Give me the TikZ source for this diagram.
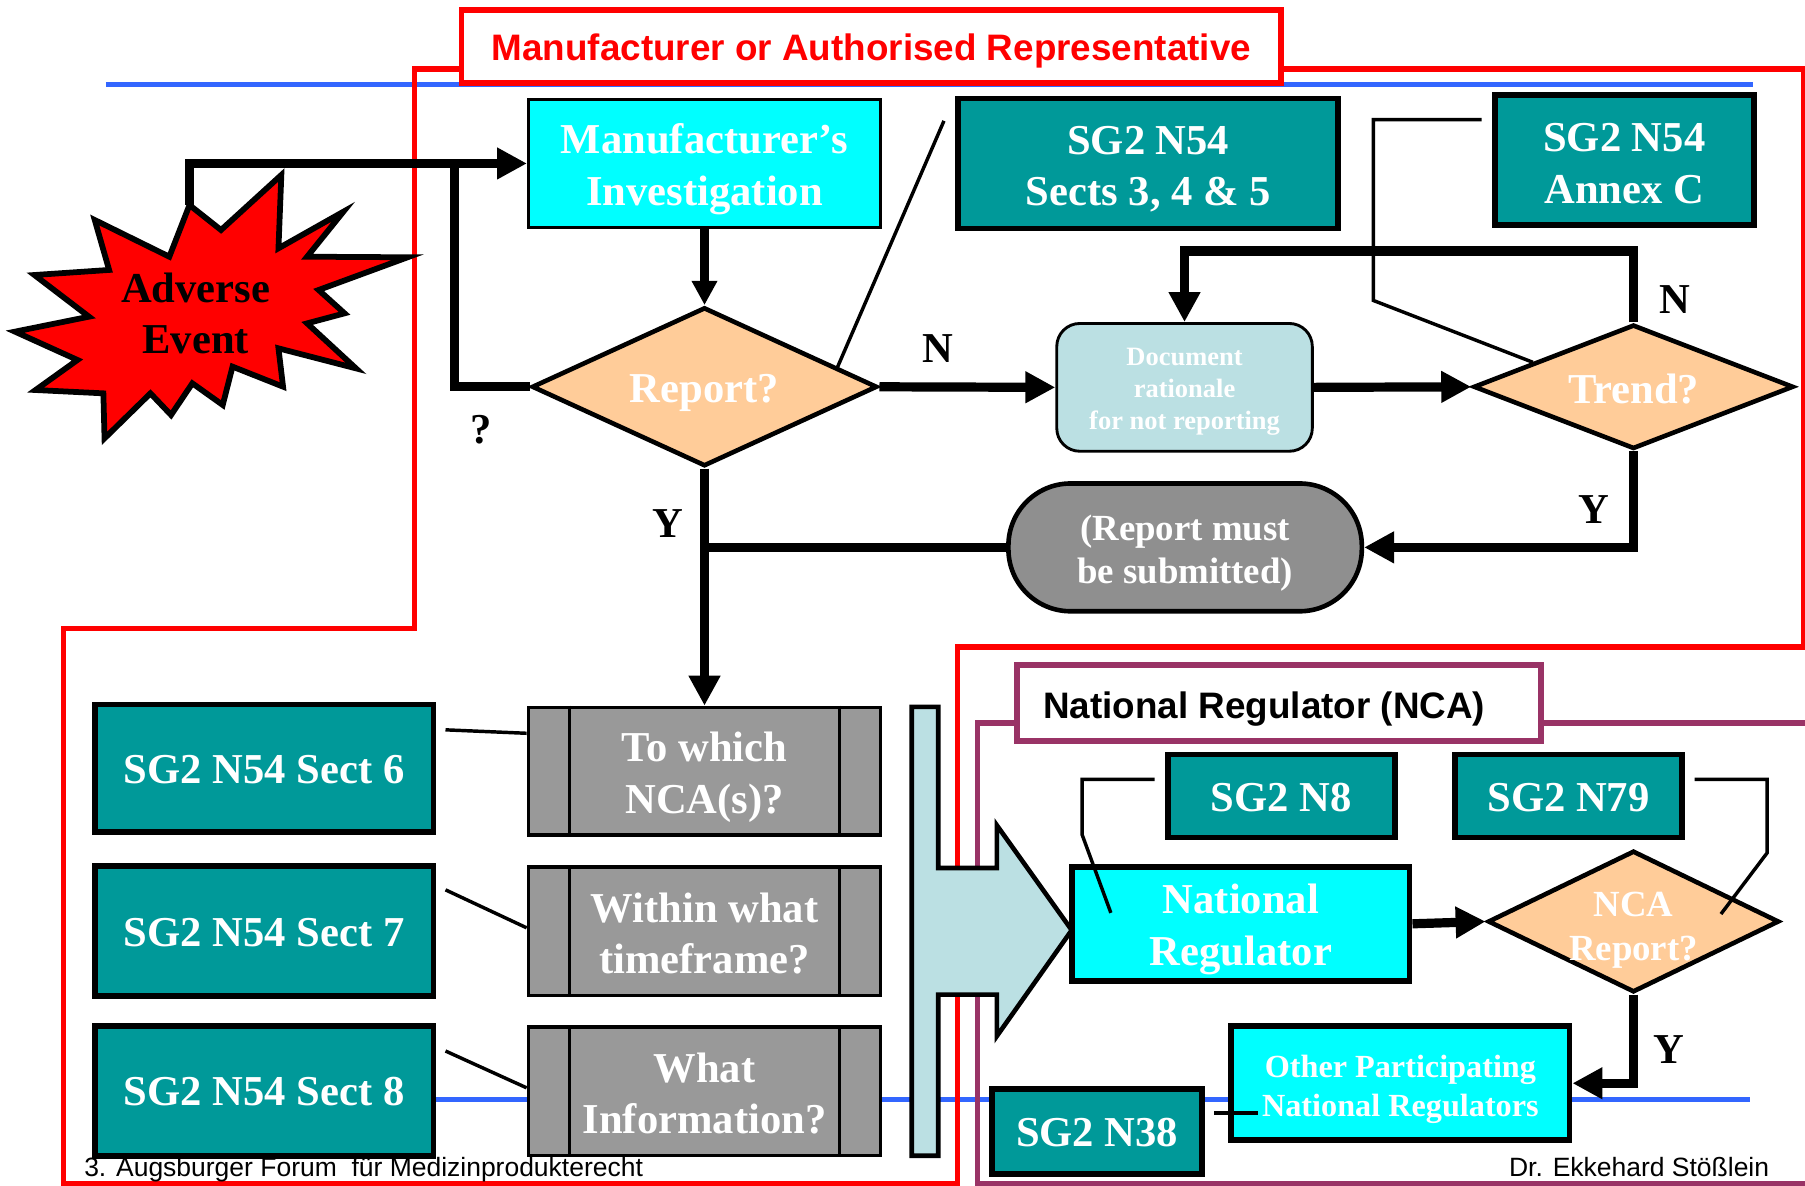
\documentclass[tikz,border=0pt]{standalone}
\usepackage{fontspec}
\setmainfont{Liberation Serif}
\newfontfamily\arialf{Liberation Sans}
\usetikzlibrary{arrows.meta,shapes.geometric,calc}

\definecolor{teal1}{HTML}{009999}
\definecolor{cyan1}{HTML}{00FFFF}
\definecolor{peach}{HTML}{FFCC99}
\definecolor{lblue}{HTML}{BBE0E3}
\definecolor{gray1}{HTML}{999999}
\definecolor{gray2}{HTML}{8F8F8F}
\definecolor{purp}{HTML}{993366}
\definecolor{blue1}{HTML}{3366FF}
\definecolor{red1}{HTML}{FF0000}

\newcommand\fA{\fontsize{37}{45}\selectfont\bfseries}
\newcommand\fB{\fontsize{32}{38}\selectfont\bfseries}
\newcommand\fC{\fontsize{28}{34}\selectfont\bfseries}
\newcommand\fD{\fontsize{23}{28}\selectfont\bfseries}
\newcommand\fH{\arialf\fontsize{32}{38}\selectfont\bfseries}
\newcommand\fF{\arialf\fontsize{23}{28}\selectfont}

\tikzset{
  txt/.style n args={3}{label={[text=white, inner sep=0pt, align=center, font=#1, yshift=#2]center:{#3}}},
  tealbox/.style={draw=black, fill=teal1, line width=5pt, inner sep=0pt},
  cyanbox/.style={draw=black, fill=cyan1, line width=5pt, inner sep=0pt},
  procbox/.style={draw=black, fill=gray1, line width=3pt, inner sep=0pt, minimum width=306pt},
  dia/.style={diamond, draw=black, fill=peach, line width=4pt, inner sep=0pt},
  flow/.style={line width=8pt, -{Triangle[length=26pt,width=26pt]}},
  flowsmall/.style={line width=8pt, -{Triangle[length=21pt,width=21pt]}},
  flowx/.style={line width=8pt},
  thinline/.style={line width=3pt},
  lbl/.style={font=\fA, text=black, inner sep=0pt},
  bar/.style={line width=2.5pt},
}

\begin{document}
\begin{tikzpicture}[x=1pt,y=-1pt]
\useasboundingbox (0,0) rectangle (1568,1030);
\fill[white] (0,0) rectangle (1568,1030);

% blue rules
\draw[blue1, line width=4pt] (92,73.5) -- (1523,73.5);
\draw[blue1, line width=4pt] (300,955) -- (1520,955);

% regions
\draw[red1, line width=4.5pt] (360,60) -- (1567,60) -- (1567,562) -- (832,562) -- (832,1028) -- (55,1028) -- (55,546) -- (360,546) -- cycle;
\draw[purp, line width=4.5pt] (849,628) -- (1580,628) -- (1580,1028) -- (849,1028) -- cycle;

% headers
\node[draw=red1, line width=5pt, fill=white, minimum width=712pt, minimum height=63pt, inner sep=0pt,
      label={[font=\fH, text=red1, inner sep=0pt, yshift=-4pt]center:{Manufacturer or Authorised Representative}}] (hdr1) at (757,40.5) {};
\node[draw=purp, line width=5pt, fill=white, minimum width=455pt, minimum height=66pt, inner sep=0pt] (hdr2) at (1111,611) {};
\node[font=\fH, text=black, anchor=west, inner sep=0pt] (hdr2t) at (906,616) {National Regulator (NCA)};

% adverse event star
\draw[fill=red1, line width=5pt, line join=miter, miter limit=20]
 (164.6,178.1) -- (192,199.8) -- (244.4,152) -- (241.9,215.7) -- (298.3,183.9) -- (266.8,223)
 -- (354.1,223.5) -- (276.8,251.9) -- (299.3,272.2) -- (266.8,280.9) -- (309.2,320) -- (241.9,302.6)
 -- (245.9,335.9) -- (202,318.5) -- (193.5,351.8) -- (167.1,333) -- (148.6,360.5) -- (130.7,341.7)
 -- (90.8,380.8) -- (89.8,341.7) -- (30.9,338.8) -- (67.3,312.7) -- (13,288.1) -- (77.3,275.1)
 -- (29.9,238.9) -- (94.8,234.5) -- (82.3,191.1) -- (147.1,223) -- cycle;
\node[font=\fontsize{37}{44}\selectfont\bfseries, align=center, inner sep=0pt] (adv) at (170,272) {Adverse\\Event};
\coordinate (advtop) at (164.6,178.1);

% upper flow nodes
\node[draw=black, fill=cyan1, line width=2.5pt, inner sep=0pt, minimum width=306pt, minimum height=111pt,
      txt={\fA}{-5pt}{Manufacturer’s\\Investigation}] (inv) at (612,142) {};
\node[dia, minimum width=300pt, minimum height=138pt, txt={\fA}{-5pt}{Report?}] (rep) at (612,336) {};
\node[draw=black, fill=lblue, rounded corners=20pt, line width=2.5pt, inner sep=0pt, minimum width=222pt, minimum height=111pt,
      txt={\fD}{-4pt}{Document\\rationale\\for not reporting}] (doc) at (1029,336.5) {};
\node[dia, minimum width=278pt, minimum height=108pt, txt={\fA}{-2pt}{Trend?}] (trend) at (1419,336) {};
\node[draw=black, fill=gray2, rounded corners=54pt, line width=4pt, inner sep=0pt, minimum width=307pt, minimum height=111pt,
      txt={\fB}{-5pt}{(Report must\\be submitted)}] (must) at (1029.5,475.5) {};
\node[tealbox, minimum width=330pt, minimum height=113pt, txt={\fA}{-5pt}{SG2 N54\\Sects 3, 4 \& 5}] (s345) at (997.5,142) {};
\node[tealbox, minimum width=225pt, minimum height=113pt, txt={\fA}{-3pt}{SG2 N54\\Annex C}] (annexc) at (1411,139) {};

% process boxes
\node[procbox, minimum height=111pt, txt={\fA}{-5pt}{To which\\NCA(s)?}] (q1) at (612,670) {};
\node[procbox, minimum height=112pt, txt={\fA}{-2pt}{Within what\\timeframe?}] (q2) at (612,809) {};
\node[procbox, minimum height=112pt, txt={\fA}{-2pt}{What\\Information?}] (q3) at (612,948) {};
\foreach \q in {q1,q2,q3}{
  \draw[bar] ($(\q.north west)+(37,0)$) -- ($(\q.south west)+(37,0)$);
  \draw[bar] ($(\q.north east)+(-37,0)$) -- ($(\q.south east)+(-37,0)$);
}

% section boxes
\node[tealbox, minimum width=294pt, minimum height=111pt, txt={\fA}{-1pt}{SG2 N54 Sect 6}] (t6) at (229.5,667.5) {};
\node[tealbox, minimum width=294pt, minimum height=113pt, txt={\fA}{-1pt}{SG2 N54 Sect 7}] (t7) at (229.5,809) {};
\node[tealbox, minimum width=294pt, minimum height=113pt, txt={\fA}{-1pt}{SG2 N54 Sect 8}] (t8) at (229.5,947.5) {};

% big arrow
\draw[fill=lblue, line width=4pt, line join=miter] (792,614) -- (815,614) -- (815,754) -- (866,754) -- (866,717)
  -- (931,808) -- (866,900) -- (866,864) -- (815,864) -- (815,1004) -- (792,1004) -- cycle;

% NCA side nodes
\node[cyanbox, minimum width=293pt, minimum height=99pt, txt={\fA}{-5pt}{National\\Regulator}] (nr) at (1078,802.5) {};
\node[tealbox, minimum width=197pt, minimum height=72pt, txt={\fA}{-1pt}{SG2 N8}] (n8) at (1113,691.5) {};
\node[tealbox, minimum width=197pt, minimum height=72pt, txt={\fA}{-1pt}{SG2 N79}] (n79) at (1362.5,691.5) {};
\node[dia, minimum width=253pt, minimum height=123pt] (nca) at (1419,800.5) {};
\node[text=white, inner sep=0pt, align=center, font=\fB] (ncatxt) at (1419,808) {NCA\\Report?};
\node[cyanbox, minimum width=294pt, minimum height=99pt, txt={\fC}{-5pt}{Other Participating\\National Regulators}] (other) at (1216.5,941) {};
\node[tealbox, minimum width=182pt, minimum height=74pt, txt={\fA}{-1pt}{SG2 N38}] (n38) at (953,983) {};

% thick connectors
\coordinate (loopc) at (395,142);
\coordinate (nloop) at (1029,218);
\draw[flow] (advtop) |- (inv.west);
\draw[flowx] (rep.west) -| (loopc);
\draw[flowsmall] (inv.south) -- (rep.north);
\draw[flow] (rep.east) -- (doc.west);
\draw[flow] (doc.east) -- (trend.west);
\draw[flow] (trend.north) |- (nloop) -- (doc.north);
\draw[flow] (trend.south) |- (must.east);
\draw[flowx] (must.west) -- (rep.south |- must.west);
\draw[flow] (rep.south) -- (q1.north);
\draw[flow] (nr.east) -- (nca.west);
\draw[flow] (nca.south) |- (other.east);

% thin callout lines
\coordinate (s345tail) at (820,105);
\draw[thinline] ($(rep.north)!0.76!(rep.east)$) -- (s345tail);
\coordinate (actail) at (1287,104);
\draw[thinline] (actail) -- (1193,104) -- (1193,261) -- ($(trend.west)!0.38!(trend.north)$);
\coordinate (c6) at (387,634);
\coordinate (c7) at (387,773);
\coordinate (c8) at (387,913);
\draw[thinline] (c6) -- ($(q1.west)+(0,-33)$);
\draw[thinline] (c7) -- ($(q2.west)+(0,-3)$);
\draw[thinline] (c8) -- ($(q3.west)+(0,-3)$);
\coordinate (n8tail) at (1003,677);
\draw[thinline] (n8tail) -- (940,677) -- (940,725) -- (965,793);
\coordinate (n79tail) at (1472,677);
\draw[thinline] (n79tail) -- (1535,677) -- (1535,741) -- (1495,794);
\coordinate (n38tail) at (1055,967);
\draw[line width=4pt] (n38tail) -- (1093,967);

% labels
\node[lbl] (lN1) at (815,303) {N};
\node[lbl] (lN2) at (1455,260) {N};
\node[lbl] (lY1) at (580,455) {Y};
\node[lbl] (lY2) at (1385,443) {Y};
\node[lbl] (lY3) at (1450,912) {Y};
\node[lbl] (lQ) at (418,373) {?};

% footer
\node[font=\fF, anchor=base west, inner sep=0pt] (foot1) at (73,1022) {3. Augsburger Forum\ \ für Medizinprodukterecht};
\node[font=\fF, anchor=base east, inner sep=0pt] (foot2) at (1537,1022) {Dr. Ekkehard Stößlein};
\end{tikzpicture}
\end{document}
